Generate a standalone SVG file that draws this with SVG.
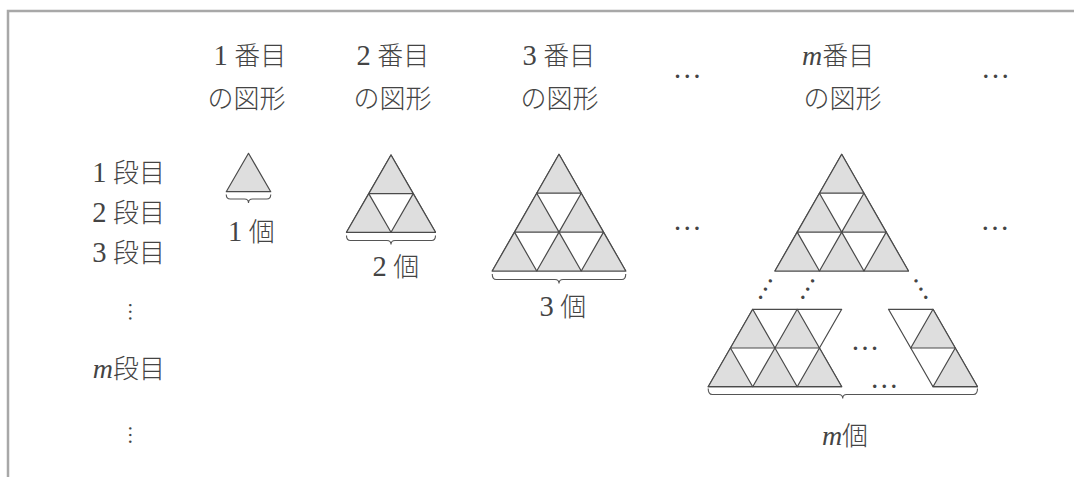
<svg xmlns="http://www.w3.org/2000/svg" width="1074" height="477" viewBox="0 0 1074 477">
<style>
.t{font-family:"Liberation Serif","Noto Sans CJK JP",serif;font-size:26px;font-weight:300;fill:#444444}
.n{font-size:28.5px}
.m{font-style:italic;font-size:28px}
.d{font-family:"Liberation Serif",serif;fill:#444444}
.sh{fill:#dedede;stroke:#4a4a4a;stroke-width:1.2;stroke-linejoin:round}
.wh{fill:#ffffff;stroke:#4a4a4a;stroke-width:1.2;stroke-linejoin:round}
.br{fill:none;stroke:#555;stroke-width:1.1}
.fr{fill:none;stroke:#a8a8a8;stroke-width:2.5}
</style>
<rect width="1074" height="477" fill="#ffffff"/>
<g id="frame"><path class="fr" d="M8,477 V11 H1074"/></g>

<g id="headers">
<text class="t" x="250" y="65" text-anchor="middle"><tspan class="n">1</tspan> 番目</text>
<text class="t" x="246.5" y="107.5" text-anchor="middle">の図形</text>
<text class="t" x="393" y="65" text-anchor="middle"><tspan class="n">2</tspan> 番目</text>
<text class="t" x="392.5" y="107.5" text-anchor="middle">の図形</text>
<text class="t" x="559" y="65" text-anchor="middle"><tspan class="n">3</tspan> 番目</text>
<text class="t" x="559.5" y="107.5" text-anchor="middle">の図形</text>
<text class="t" x="802" y="65"><tspan class="m">m</tspan>番目</text>
<text class="t" x="842.5" y="107.5" text-anchor="middle">の図形</text>
<text class="d" x="687.3" y="78" font-size="29" text-anchor="middle">…</text>
<text class="d" x="995.5" y="78" font-size="29" text-anchor="middle">…</text>
</g>

<g id="row-labels">
<text class="t" x="165" y="182.3" text-anchor="end"><tspan class="n">1</tspan> 段目</text>
<text class="t" x="165" y="221.5" text-anchor="end"><tspan class="n">2</tspan> 段目</text>
<text class="t" x="165" y="261.5" text-anchor="end"><tspan class="n">3</tspan> 段目</text>
<text class="d" font-size="20" text-anchor="middle" transform="translate(130,311.7) rotate(90)" y="1">…</text>
<text class="t" x="165" y="378" text-anchor="end"><tspan class="m">m</tspan>段目</text>
<text class="d" font-size="20" text-anchor="middle" transform="translate(130,435) rotate(90)" y="1">…</text>
</g>

<g id="fig1">
<polygon class="sh" points="248.5,153.3 226.25,191.7 270.75,191.7"/>
<path class="br" d="M226.25,194.5 Q226.25,199 230.25,199 H244.5 Q248.5,199 248.5,203 Q248.5,199 252.5,199 H266.75 Q270.75,199 270.75,194.5"/>
<text class="t" x="251.5" y="241.3" text-anchor="middle"><tspan class="n">1</tspan> 個</text>
</g>

<g id="fig2">
<polygon class="wh" points="391,155 346.5,232.3 435.5,232.3"/>
<polygon class="sh" points="391,155 368.75,193.65 413.25,193.65"/>
<polygon class="sh" points="368.75,193.65 346.5,232.3 391,232.3"/>
<polygon class="sh" points="413.25,193.65 391,232.3 435.5,232.3"/>
<path class="br" d="M346.5,235.5 Q346.5,240.5 350.5,240.5 H387 Q391,240.5 391,244.5 Q391,240.5 395,240.5 H431.5 Q435.5,240.5 435.5,235.5"/>
<text class="t" x="396" y="276.3" text-anchor="middle"><tspan class="n">2</tspan> 個</text>
</g>

<g id="fig3">
<polygon class="wh" points="559,154.3 492.25,271 625.75,271"/>
<polygon class="sh" points="559,154.3 536.75,193.2 581.25,193.2"/>
<polygon class="sh" points="536.75,193.2 514.5,232.1 559,232.1"/>
<polygon class="sh" points="581.25,193.2 559,232.1 603.5,232.1"/>
<polygon class="sh" points="514.5,232.1 492.25,271 536.75,271"/>
<polygon class="sh" points="559,232.1 536.75,271 581.25,271"/>
<polygon class="sh" points="603.5,232.1 581.25,271 625.75,271"/>
<path class="br" d="M492.25,274 Q492.25,279.5 496.25,279.5 H555 Q559,279.5 559,283.5 Q559,279.5 563,279.5 H621.75 Q625.75,279.5 625.75,274"/>
<text class="t" x="563" y="316.3" text-anchor="middle"><tspan class="n">3</tspan> 個</text>
</g>

<g id="dots-row">
<text class="d" x="687.3" y="229.7" font-size="29" text-anchor="middle">…</text>
<text class="d" x="995" y="229.7" font-size="29" text-anchor="middle">…</text>
</g>

<g id="figm">
<polygon class="wh" points="841.7,154.3 774.95,271 908.45,271"/>
<polygon class="sh" points="841.7,154.3 819.45,193.2 863.95,193.2"/>
<polygon class="sh" points="819.45,193.2 797.2,232.1 841.7,232.1"/>
<polygon class="sh" points="863.95,193.2 841.7,232.1 886.2,232.1"/>
<polygon class="sh" points="797.2,232.1 774.95,271 819.45,271"/>
<polygon class="sh" points="841.7,232.1 819.45,271 863.95,271"/>
<polygon class="sh" points="886.2,232.1 863.95,271 908.45,271"/>
<text class="d" font-size="28.5" text-anchor="middle" transform="translate(765.3,289) rotate(-59.2)" y="1.4">…</text>
<text class="d" font-size="28.5" text-anchor="middle" transform="translate(807.7,289) rotate(-59.2)" y="1.4">…</text>
<text class="d" font-size="28.5" text-anchor="middle" transform="translate(921,289) rotate(59.2)" y="1.4">…</text>
<polygon class="wh" points="752.7,309.3 841.7,309.3 819.45,348 841.7,386.7 708.2,386.7 730.45,348"/>
<polygon class="sh" points="752.7,309.3 730.45,348 774.95,348"/>
<polygon class="sh" points="797.2,309.3 774.95,348 819.45,348"/>
<polygon class="sh" points="730.45,348 708.2,386.7 752.7,386.7"/>
<polygon class="sh" points="774.95,348 752.7,386.7 797.2,386.7"/>
<polygon class="sh" points="819.45,348 797.2,386.7 841.7,386.7"/>
<text class="d" x="865" y="350.4" font-size="28.5" text-anchor="middle">…</text>
<polygon class="wh" points="888.5,309.3 933,309.3 977.5,386.7 933,386.7"/>
<polygon class="sh" points="933,309.3 910.75,348 955.25,348"/>
<polygon class="sh" points="955.25,348 933,386.7 977.5,386.7"/>
<text class="d" x="884.3" y="388.1" font-size="28.5" text-anchor="middle">…</text>
<path class="br" d="M708.2,388.5 Q708.2,394.5 712.2,394.5 H838.7 Q842.7,394.5 842.7,398.5 Q842.7,394.5 846.7,394.5 H973.5 Q977.5,394.5 977.5,388.5"/>
<text class="t" x="845" y="445" text-anchor="middle"><tspan class="m">m</tspan>個</text>
</g>
</svg>
